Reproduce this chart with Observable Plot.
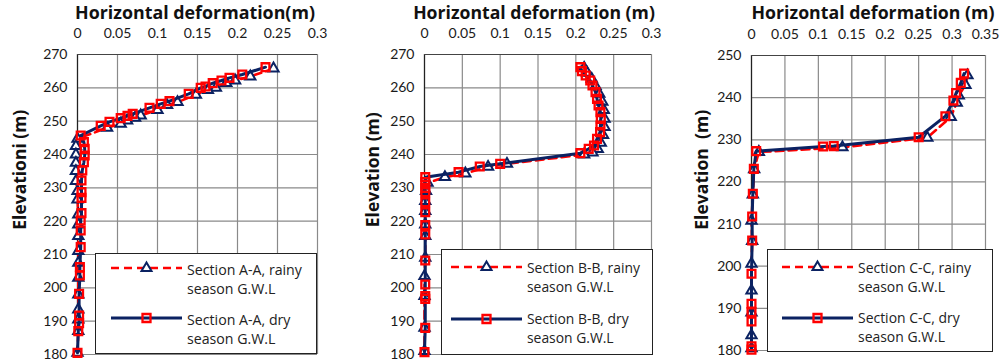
<!DOCTYPE html>
<html><head><meta charset="utf-8">
<script src="https://cdn.jsdelivr.net/npm/d3@7"></script>
<script src="https://cdn.jsdelivr.net/npm/@observablehq/plot@0.6"></script>
<style>
body{margin:0;background:#fff;}
#wrap{position:relative;width:1002px;height:363px;overflow:hidden;font-family:Lato,"Liberation Sans",sans-serif;color:#1a1a1a;}
.panel{position:absolute;top:0;}
.title{position:absolute;font-family:"Open Sans",sans-serif;font-weight:bold;font-size:17px;line-height:1;white-space:nowrap;color:#111;}
.ylab{position:absolute;font-family:"Open Sans",sans-serif;font-weight:bold;font-size:18px;line-height:1;white-space:nowrap;color:#111;}
.legend{position:absolute;background:#fff;border:1px solid #222;box-sizing:border-box;}
.ltext{position:absolute;font-family:"Open Sans",sans-serif;font-size:14px;line-height:19px;white-space:nowrap;color:#222;}
.lsym{position:absolute;}
</style>
</head><body>
<div id="wrap"></div>
<script>
// ---------- data ----------
const xTicksAB = [0, 0.05, 0.1, 0.15, 0.2, 0.25, 0.3];
const xTicksC = [0, 0.05, 0.1, 0.15, 0.2, 0.25, 0.3, 0.35];
const yTicksAB = [180, 190, 200, 210, 220, 230, 240, 250, 260, 270];
const yTicksC = [180, 190, 200, 210, 220, 230, 240, 250];

const titles = ["Horizontal deformation(m)", "Horizontal deformation (m)", "Horizontal deformation (m)"];
const yLabels = ["Elevationi (m)", "Elevation (m)", "Elevation\u00a0 (m)"];
const legendRainy = ["Section A-A, rainy", "Section B-B, rainy", "Section C-C, rainy"];
const legendDry = ["Section A-A, dry", "Section B-B, dry", "Section C-C, dry"];
const legendSecond = "season G.W.L";

// Section A-A
const aRainyDef = [0.245, 0.216, 0.197, 0.186, 0.173, 0.163, 0.148, 0.125, 0.112, 0.100, 0.079, 0.072, 0.062, 0.054, 0.037, 0.000,
  -0.002, -0.002, -0.002, -0.002, -0.002, 0.000, 0.000, 0.001, 0.001, 0.001, 0.001, 0.001, 0.001, 0.001, 0.001, 0.001, 0.001, 0.000];
const aRainyElev = [265.8, 263.4, 262.2, 261.4, 260.0, 259.3, 257.9, 255.7, 254.8, 253.3, 251.7, 251.0, 250.2, 249.2, 248.0, 244.7,
  242.5, 240.0, 237.5, 235.0, 232.0, 229.0, 226.5, 222.0, 219.0, 215.5, 211.0, 207.5, 203.0, 198.0, 193.5, 190.5, 187.0, 180.5];
const aDryDef = [0.235, 0.206, 0.190, 0.180, 0.169, 0.160, 0.154, 0.139, 0.115, 0.104, 0.090, 0.069, 0.0625, 0.054, 0.040, 0.029, 0.004,
  0.008, 0.009, 0.009, 0.008, 0.006, 0.005, 0.005, 0.005, 0.005, 0.004, 0.004, 0.004, 0.003, 0.003, 0.002, 0.002, 0.002, 0.001, 0.000];
const aDryElev = [266.2, 264.0, 263.0, 262.2, 261.4, 260.4, 260.0, 258.2, 256.0, 255.2, 254.0, 252.2, 251.6, 250.9, 249.8, 248.6, 245.7,
  243.7, 241.7, 239.7, 237.7, 235.2, 232.2, 228.7, 227.0, 222.4, 220.2, 217.2, 212.2, 206.2, 203.7, 198.2, 191.7, 189.4, 187.0, 180.5];

// Section B-B
const bRainyDef = [0.211, 0.215, 0.221, 0.226, 0.231, 0.235, 0.237, 0.238, 0.238, 0.236, 0.233, 0.229, 0.222, 0.211, 0.109, 0.084, 0.054, 0.027,
  0.004, 0.002, 0.001, 0.001, 0.001, 0.001, 0.001, 0.000, 0.000, 0.000, 0.000];
const bRainyElev = [266.0, 264.5, 262.7, 260.5, 258.2, 255.8, 253.3, 250.7, 248.2, 245.8, 243.5, 241.6, 240.6, 240.0, 237.2, 236.3, 234.3, 233.2,
  231.5, 229.0, 226.0, 223.0, 219.0, 215.5, 209.0, 203.5, 197.5, 188.0, 181.0];
const bDryDef = [0.206, 0.208, 0.213, 0.219, 0.222, 0.226, 0.228, 0.230, 0.2325, 0.233, 0.2325, 0.232, 0.228, 0.224, 0.217, 0.206, 0.100, 0.073, 0.045,
  0.001, 0.001, 0.001, 0.001, 0.001, 0.001, 0.001, 0.001, 0.001, 0.001, 0.001, 0.001, 0.001, 0.000];
const bDryElev = [266.2, 265.0, 263.7, 262.2, 260.7, 258.7, 256.7, 254.7, 252.7, 250.7, 248.7, 246.7, 244.7, 242.7, 241.7, 240.4, 237.2, 236.4, 234.7,
  233.2, 231.7, 230.0, 228.7, 225.7, 222.7, 218.8, 216.0, 208.2, 201.0, 197.5, 196.7, 188.0, 180.7];

// Section C-C
const cRainyDef = [0.323, 0.320, 0.310, 0.307, 0.298, 0.263, 0.136, 0.011, 0.004, 0.002, 0.000, 0.001, 0.000, 0.000, 0.000, 0.000, 0.000];
const cRainyElev = [245.3, 243.0, 240.5, 238.8, 235.4, 230.5, 228.2, 227.1, 223.0, 217.0, 210.8, 206.0, 200.6, 194.2, 189.0, 183.6, 180.5];
const cDryDef = [0.318, 0.313, 0.306, 0.302, 0.290, 0.250, 0.123, 0.107, 0.007, 0.0035, 0.002, 0.001, 0.001, 0.000, 0.000, 0.000, 0.000, 0.000, 0.000];
const cDryElev = [245.7, 243.5, 241.1, 239.3, 235.6, 230.6, 228.5, 228.4, 227.3, 223.1, 217.2, 211.8, 206.1, 198.2, 191.1, 189.1, 186.9, 181.0, 180.2];

// ---------- drawing ----------
const NAVY = "#0b2262", RED = "#ff0000", GRID = "#8a8a8a";
const zip = (d, e) => d.map((v, i) => ({d: v, e: e[i]}));
const fmt = v => String(+v.toFixed(2));

const panels = [
  {left: 0, width: 334, ml: 77, mr: 17, mt: 54, mb: 9, xTicks: xTicksAB, yTicks: yTicksAB,
   rainy: zip(aRainyDef, aRainyElev), dry: zip(aDryDef, aDryElev),
   titleX: 195, titleW: 240, ylabX: 20, ylabY: 170, ylabW: 120,
   leg: {x: 95, y: 253, w: 222, h: 101, sx: 111, tx: 187, tw: 115, dy1: 15, dy2: 65, ty1: 7, ty2: 57}},
  {left: 340, width: 330, ml: 84, mr: 19, mt: 54, mb: 9, xTicks: xTicksAB, yTicks: yTicksAB,
   rainy: zip(bRainyDef, bRainyElev), dry: zip(bDryDef, bDryElev),
   titleX: 534, titleW: 242, ylabX: 372, ylabY: 170, ylabW: 115,
   leg: {x: 441, y: 249, w: 212, h: 106, sx: 451, tx: 527, tw: 113, dy1: 18, dy2: 70, ty1: 9, ty2: 60}},
  {left: 670, width: 332, ml: 81, mr: 17, mt: 55, mb: 13, xTicks: xTicksC, yTicks: yTicksC,
   rainy: zip(cRainyDef, cRainyElev), dry: zip(cDryDef, cDryElev),
   titleX: 873, titleW: 243, ylabX: 702, ylabY: 170, ylabW: 120,
   leg: {x: 767, y: 249, w: 226, h: 103, sx: 782, tx: 858, tw: 113, dy1: 18, dy2: 69, ty1: 9, ty2: 59}}
];

const wrap = document.getElementById("wrap");

// scale an element's font size so that its text takes the wanted width
function fitWidth(el, target) {
  const w = el.getBoundingClientRect().width;
  const fs = parseFloat(getComputedStyle(el).fontSize);
  if (w > 0) el.style.fontSize = (fs * target / w).toFixed(2) + "px";
}

panels.forEach((p, i) => {
  const xmax = p.xTicks[p.xTicks.length - 1];
  const ymin = p.yTicks[0], ymax = p.yTicks[p.yTicks.length - 1];
  const chart = Plot.plot({
    width: p.width, height: 363,
    marginLeft: p.ml, marginRight: p.mr, marginTop: p.mt, marginBottom: p.mb,
    style: {fontFamily: "Lato, 'Liberation Sans', sans-serif", fontSize: "14px", color: "#1a1a1a", background: "transparent", overflow: "visible"},
    x: {domain: [0, xmax], ticks: p.xTicks, tickFormat: fmt, axis: "top", tickSize: 0, tickPadding: 17, label: null},
    y: {domain: [ymin, ymax], ticks: p.yTicks, tickFormat: d => String(d), tickSize: 0, tickPadding: 10, label: null},
    marks: [
      Plot.ruleX(p.xTicks, {stroke: GRID, strokeWidth: 1.2}),
      Plot.ruleY(p.yTicks, {stroke: GRID, strokeWidth: 1.2}),
      Plot.ruleX([0], {stroke: "#222", strokeWidth: 1.2}),
      Plot.ruleY([ymax], {stroke: "#444", strokeWidth: 1.2}),
      Plot.line(p.rainy, {x: "d", y: "e", stroke: RED, strokeWidth: 2.6, strokeDasharray: "8,5"}),
      Plot.dot(p.rainy, {x: "d", y: "e", symbol: "triangle", r: 3.8, stroke: NAVY, strokeWidth: 2, fill: "white"}),
      Plot.line(p.dry, {x: "d", y: "e", stroke: NAVY, strokeWidth: 3}),
      Plot.dot(p.dry, {x: "d", y: "e", symbol: "square", r: 4.4, stroke: RED, strokeWidth: 2.3, fill: "none"})
    ]
  });
  chart.classList.add("panel");
  chart.style.left = p.left + "px";
  wrap.appendChild(chart);

  // title (centered above the axis)
  const t = document.createElement("div");
  t.className = "title"; t.textContent = titles[i];
  wrap.appendChild(t);
  fitWidth(t, p.titleW);
  const tb = t.getBoundingClientRect();
  t.style.left = (p.titleX - tb.width / 2) + "px";
  t.style.top = (13 - tb.height / 2) + "px";

  // rotated y label
  const yl = document.createElement("div");
  yl.className = "ylab"; yl.textContent = yLabels[i];
  wrap.appendChild(yl);
  fitWidth(yl, p.ylabW);
  const yb = yl.getBoundingClientRect();
  yl.style.left = (p.ylabX - yb.width / 2) + "px";
  yl.style.top = (p.ylabY - yb.height / 2) + "px";
  yl.style.transform = "rotate(-90deg)";

  const L = p.leg;
  const box = document.createElement("div");
  box.className = "legend";
  Object.assign(box.style, {left: L.x + "px", top: L.y + "px", width: L.w + "px", height: L.h + "px"});
  wrap.appendChild(box);

  const ns = "http://www.w3.org/2000/svg";
  function sym(y, kind) {
    const s = document.createElementNS(ns, "svg");
    s.setAttribute("width", 74); s.setAttribute("height", 16);
    s.classList.add("lsym");
    s.style.left = (L.sx - 1) + "px"; s.style.top = (L.y + y - 8) + "px";
    const ln = document.createElementNS(ns, "line");
    ln.setAttribute("x1", 1); ln.setAttribute("x2", 72); ln.setAttribute("y1", 8); ln.setAttribute("y2", 8);
    if (kind === "rainy") {
      ln.setAttribute("stroke", RED); ln.setAttribute("stroke-width", 2.6); ln.setAttribute("stroke-dasharray", "8,5");
    } else {
      ln.setAttribute("stroke", NAVY); ln.setAttribute("stroke-width", 3);
    }
    s.appendChild(ln);
    const m = document.createElementNS(ns, "path");
    if (kind === "rainy") {
      m.setAttribute("d", "M36.5,2.5 L41.5,11 L31.5,11 Z");
      m.setAttribute("fill", "white"); m.setAttribute("stroke", NAVY); m.setAttribute("stroke-width", 2);
    } else {
      m.setAttribute("d", "M32.5,4 H40.5 V12 H32.5 Z");
      m.setAttribute("fill", "none"); m.setAttribute("stroke", RED); m.setAttribute("stroke-width", 2.3);
    }
    s.appendChild(m);
    wrap.appendChild(s);
  }
  sym(L.dy1, "rainy");
  sym(L.dy2, "dry");

  function txt(y, first) {
    const d = document.createElement("div");
    d.className = "ltext";
    d.style.left = L.tx + "px"; d.style.top = (L.y + y) + "px";
    const s1 = document.createElement("span"); s1.textContent = first;
    d.appendChild(s1);
    d.appendChild(document.createElement("br"));
    d.appendChild(document.createTextNode(legendSecond));
    wrap.appendChild(d);
    return {d, s1};
  }
  const r1 = txt(L.ty1, legendRainy[i]);
  // fit legend text size on the first rainy line
  const w1 = r1.s1.getBoundingClientRect().width;
  const fs = (14 * L.tw / w1).toFixed(2) + "px";
  r1.d.style.fontSize = fs;
  const r2 = txt(L.ty2, legendDry[i]);
  r2.d.style.fontSize = fs;
});
</script>
</body></html>
